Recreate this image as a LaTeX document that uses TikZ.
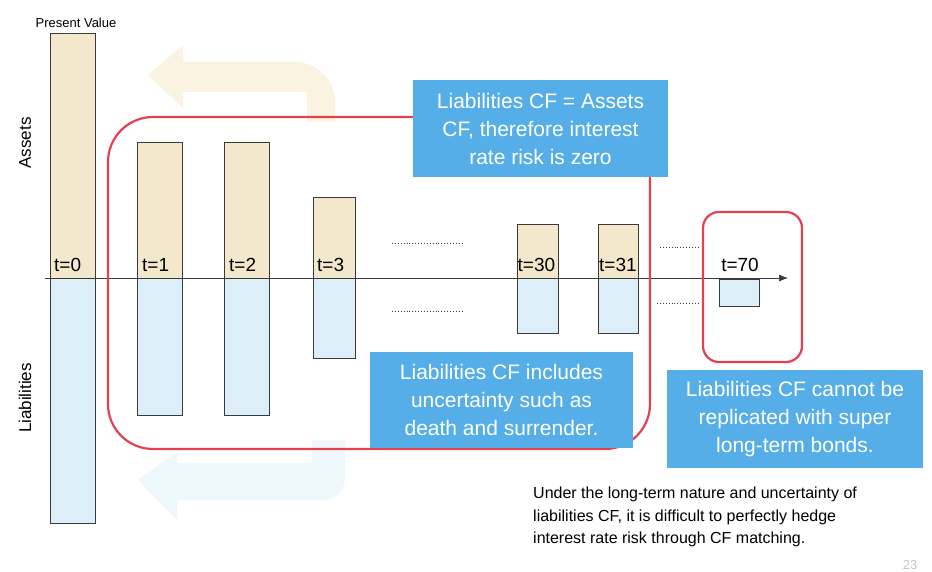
\documentclass[tikz,border=0pt]{standalone}
\usepackage{fontspec}
\setmainfont{Liberation Sans}
\usepackage{xcolor}
\usetikzlibrary{positioning,arrows.meta}
\definecolor{ink}     {HTML}{3A3A3A}
\definecolor{assetbg} {HTML}{F4E8CC}
\definecolor{liabbg}  {HTML}{DCEEF8}
\definecolor{callbg}  {HTML}{55AEE7}
\definecolor{redline} {HTML}{E5404F}
\definecolor{ghosty}  {HTML}{FAF3E1}
\definecolor{ghostb}  {HTML}{EEF7FC}
\definecolor{pagegray}{HTML}{C4C4C4}
\tikzset{
  asset/.style   = {fill=assetbg, draw=ink, line width=0.7pt},
  liab/.style    = {fill=liabbg, draw=ink, line width=0.7pt},
  tlbl/.style    = {font=\fontsize{19}{19}\selectfont, inner sep=0pt, anchor=base west},
  callout/.style = {fill=callbg, text=white, align=center, inner sep=2pt,
                    font=\fontsize{21}{28}\selectfont},
  redbox/.style  = {draw=redline, line width=2.2pt},
  dots/.style    = {dotted, draw=ink, line width=0.9pt},
  axis/.style    = {-{Latex[length=9pt,width=7pt]}, draw=ink, line width=0.7pt},
  side/.style    = {font=\fontsize{17}{17}\selectfont, rotate=90},
}

\begin{document}
\begin{tikzpicture}[x=1pt, y=-1pt]
  \useasboundingbox (0,0) rectangle (932,572);

  % faint arrows behind
  \fill[ghosty] (148,75) -- (183,45) -- (183,62) -- (295,62) arc[start angle=90, end angle=0, radius=40pt]
    -- (335,122) -- (307,122) -- (307,92) -- (183,92) -- (183,108) -- cycle;
  \fill[ghostb] (138,480) -- (177,452) -- (177,463) -- (312,463) -- (312,440) -- (345,440)
    [rounded corners=22pt] -- (345,500) [sharp corners] -- (177,500) -- (177,520) -- cycle;

  \node[font=\fontsize{13}{13}\selectfont, anchor=base] (pv) at (76,28) {Present Value};
  \node[side] (assets) at (25,143) {Assets};
  \node[side] (liabs) at (25,398) {Liabilities};

  % bars, assets above / liabilities below the axis
  \draw[asset] (50,33) rectangle (95,278);   \draw[liab] (50,278) rectangle (95,523);
  \draw[asset] (137,142) rectangle (182,278); \draw[liab] (137,278) rectangle (182,415);
  \draw[asset] (224,142) rectangle (269,278); \draw[liab] (224,278) rectangle (269,415);
  \draw[asset] (313,197) rectangle (355,278); \draw[liab] (313,278) rectangle (355,358);
  \draw[asset] (517,224) rectangle (558,278); \draw[liab] (517,278) rectangle (558,333);
  \draw[asset] (598,224) rectangle (638,278); \draw[liab] (598,278) rectangle (638,333);
  \draw[liab] (719,279) rectangle (759,306);

  \node[tlbl] (t0) at (54,272) {t=0};
  \node[tlbl] (t1) at (142,272) {t=1};
  \node[tlbl] (t2) at (229,272) {t=2};
  \node[tlbl] (t3) at (317,272) {t=3};
  \node[tlbl] (t30) at (517.5,272) {t=30};
  \node[tlbl] (t31) at (599,272) {t=31};
  \node[tlbl, anchor=base] (t70) at (740,272) {t=70};

  \coordinate (axL) at (45,278);
  \coordinate (axR) at (788,278);
  \draw[axis] (axL) -- (axR);

  \draw[dots] (392,243) -- (463,243);
  \draw[dots] (392,311) -- (463,311);
  \draw[dots] (660,247) -- (700,247);
  \draw[dots] (657,303) -- (700,303);

  % red frames
  \draw[redbox, rounded corners=45pt] (108,117) rectangle (650,449);
  \draw[redbox, rounded corners=16pt] (703,212) rectangle (802,362);

  % blue notes
  \node[callout, minimum width=255pt, minimum height=97pt] (noteZero) at (540.5,128.5)
    {Liabilities CF = Assets\\CF, therefore interest\\rate risk is zero};
  \node[callout, minimum width=263pt, minimum height=96pt] (noteDeath) at (501.5,400)
    {Liabilities CF includes\\uncertainty such as\\death and surrender.};
  \node[callout, minimum width=256pt, minimum height=98pt] (noteBond) at (795,419)
    {Liabilities CF cannot be\\replicated with super\\long-term bonds.};

  \node[anchor=north west, align=left, inner sep=0pt, font=\fontsize{16}{22.5}\selectfont] (summary) at (533,487)
    {Under the long-term nature and uncertainty of\\liabilities CF, it is difficult to perfectly hedge\\interest rate risk through CF matching.};
  \node[anchor=base, text=pagegray, font=\fontsize{13}{13}\selectfont] (page) at (910,569) {23};
\end{tikzpicture}
\end{document}
